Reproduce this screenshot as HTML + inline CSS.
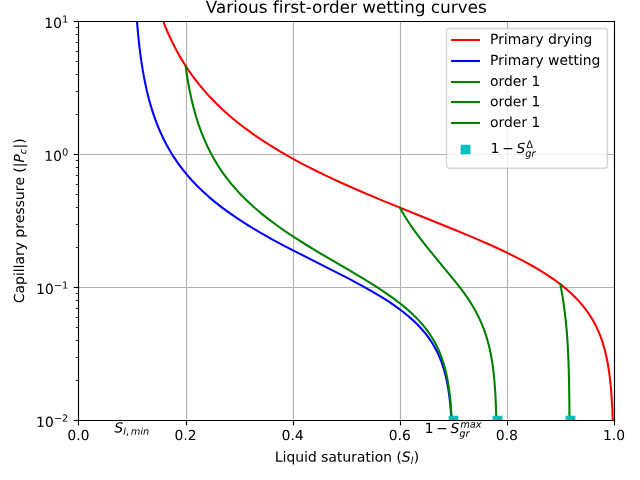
<!DOCTYPE html>
<html><head><meta charset="utf-8"><title>Various first-order wetting curves</title>
<style>html,body{margin:0;padding:0;background:#fff;overflow:hidden}svg{display:block}</style>
</head><body>
<svg width="640" height="480" viewBox="0 0 460.8 345.6" version="1.1" role="img" aria-label="Various first-order wetting curves. Capillary pressure (|Pc|) versus liquid saturation (Sl). Legend: Primary drying, Primary wetting, order 1, order 1, order 1, 1-Sgr^Delta. Annotations: Sl,min and 1-Sgr^max.">
 <title>Various first-order wetting curves. Capillary pressure (|Pc|) versus liquid saturation (Sl). Legend: Primary drying, Primary wetting, order 1, order 1, order 1, 1-Sgr^Delta. Annotations: Sl,min and 1-Sgr^max.</title>
  <defs>
  <style type="text/css">*{stroke-linejoin: round; stroke-linecap: butt}</style>
 </defs>
 <g id="figure_1">
  <g id="patch_1">
   <path d="M 0 345.6 L 460.8 345.6 L 460.8 0 L 0 0 z
" style="fill: #ffffff"/>
  </g>
  <g id="axes_1">
   <g id="patch_2">
    <path d="M 56.4768 302.544 L 442.08 302.544 L 442.08 15.264 L 56.4768 15.264 z
" style="fill: #ffffff"/>
   </g>
   <g id="matplotlib.axis_1">
    <g id="xtick_1">
     <g id="line2d_1">
      <path d="M 56.5200 302.544 L 56.5200 15.264 " clip-path="url(#p04ae2a21cd)" style="fill: none; stroke: #b0b0b0; stroke-width: 0.8; stroke-linecap: square"/>
     </g>
     <g id="line2d_2">
      <defs>
       <path id="mc9bf2ea2a0" d="M 0 0 L 0 3.5 " style="stroke: #000000; stroke-width: 0.8"/>
      </defs>
      <g>
       <path d="M 56.5200 302.7600 L 56.5200 306.2600" style="stroke: #000000; stroke-width: 0.8"/>
      </g>
     </g>
     <g id="text_1" transform="translate(0.0000 -0.2880)">
      <!-- 0.0 -->
      <g transform="translate(48.525237 317.142437) scale(0.1 -0.1)">
       <defs>
        <path id="DejaVuSans-30" d="M 2034 4250 Q 1547 4250 1301 3770 Q 1056 3291 1056 2328 Q 1056 1369 1301 889 Q 1547 409 2034 409 Q 2525 409 2770 889 Q 3016 1369 3016 2328 Q 3016 3291 2770 3770 Q 2525 4250 2034 4250 z
M 2034 4750 Q 2819 4750 3233 4129 Q 3647 3509 3647 2328 Q 3647 1150 3233 529 Q 2819 -91 2034 -91 Q 1250 -91 836 529 Q 422 1150 422 2328 Q 422 3509 836 4129 Q 1250 4750 2034 4750 z
" transform="scale(0.015625)"/>
        <path id="DejaVuSans-2e" d="M 684 794 L 1344 794 L 1344 0 L 684 0 L 684 794 z
" transform="scale(0.015625)"/>
       </defs>
       <use xlink:href="#DejaVuSans-30"/>
       <use xlink:href="#DejaVuSans-2e" transform="translate(63.623047 0)"/>
       <use xlink:href="#DejaVuSans-30" transform="translate(95.410156 0)"/>
      </g>
     </g>
    </g>
    <g id="xtick_2">
     <g id="line2d_3">
      <path d="M 134.2800 302.544 L 134.2800 15.264 " clip-path="url(#p04ae2a21cd)" style="fill: none; stroke: #b0b0b0; stroke-width: 0.8; stroke-linecap: square"/>
     </g>
     <g id="line2d_4">
      <g>
       <path d="M 134.2800 302.7600 L 134.2800 306.2600" style="stroke: #000000; stroke-width: 0.8"/>
      </g>
     </g>
     <g id="text_2" transform="translate(0.0000 -0.2880)">
      <!-- 0.2 -->
      <g transform="translate(125.645878 317.142437) scale(0.1 -0.1)">
       <defs>
        <path id="DejaVuSans-32" d="M 1228 531 L 3431 531 L 3431 0 L 469 0 L 469 531 Q 828 903 1448 1529 Q 2069 2156 2228 2338 Q 2531 2678 2651 2914 Q 2772 3150 2772 3378 Q 2772 3750 2511 3984 Q 2250 4219 1831 4219 Q 1534 4219 1204 4116 Q 875 4013 500 3803 L 500 4441 Q 881 4594 1212 4672 Q 1544 4750 1819 4750 Q 2544 4750 2975 4387 Q 3406 4025 3406 3419 Q 3406 3131 3298 2873 Q 3191 2616 2906 2266 Q 2828 2175 2409 1742 Q 1991 1309 1228 531 z
" transform="scale(0.015625)"/>
       </defs>
       <use xlink:href="#DejaVuSans-30"/>
       <use xlink:href="#DejaVuSans-2e" transform="translate(63.623047 0)"/>
       <use xlink:href="#DejaVuSans-32" transform="translate(95.410156 0)"/>
      </g>
     </g>
    </g>
    <g id="xtick_3">
     <g id="line2d_5">
      <path d="M 211.3200 302.544 L 211.3200 15.264 " clip-path="url(#p04ae2a21cd)" style="fill: none; stroke: #b0b0b0; stroke-width: 0.8; stroke-linecap: square"/>
     </g>
     <g id="line2d_6">
      <g>
       <path d="M 211.3200 302.7600 L 211.3200 306.2600" style="stroke: #000000; stroke-width: 0.8"/>
      </g>
     </g>
     <g id="text_3" transform="translate(0.0000 -0.2880)">
      <!-- 0.4 -->
      <g transform="translate(202.766518 317.142437) scale(0.1 -0.1)">
       <defs>
        <path id="DejaVuSans-34" d="M 2419 4116 L 825 1625 L 2419 1625 L 2419 4116 z
M 2253 4666 L 3047 4666 L 3047 1625 L 3713 1625 L 3713 1100 L 3047 1100 L 3047 0 L 2419 0 L 2419 1100 L 313 1100 L 313 1709 L 2253 4666 z
" transform="scale(0.015625)"/>
       </defs>
       <use xlink:href="#DejaVuSans-30"/>
       <use xlink:href="#DejaVuSans-2e" transform="translate(63.623047 0)"/>
       <use xlink:href="#DejaVuSans-34" transform="translate(95.410156 0)"/>
      </g>
     </g>
    </g>
    <g id="xtick_4">
     <g id="line2d_7">
      <path d="M 288.3600 302.544 L 288.3600 15.264 " clip-path="url(#p04ae2a21cd)" style="fill: none; stroke: #b0b0b0; stroke-width: 0.8; stroke-linecap: square"/>
     </g>
     <g id="line2d_8">
      <g>
       <path d="M 288.3600 302.7600 L 288.3600 306.2600" style="stroke: #000000; stroke-width: 0.8"/>
      </g>
     </g>
     <g id="text_4" transform="translate(0.0000 -0.2880)">
      <!-- 0.6 -->
      <g transform="translate(279.887158 317.142437) scale(0.1 -0.1)">
       <defs>
        <path id="DejaVuSans-36" d="M 2113 2584 Q 1688 2584 1439 2293 Q 1191 2003 1191 1497 Q 1191 994 1439 701 Q 1688 409 2113 409 Q 2538 409 2786 701 Q 3034 994 3034 1497 Q 3034 2003 2786 2293 Q 2538 2584 2113 2584 z
M 3366 4563 L 3366 3988 Q 3128 4100 2886 4159 Q 2644 4219 2406 4219 Q 1781 4219 1451 3797 Q 1122 3375 1075 2522 Q 1259 2794 1537 2939 Q 1816 3084 2150 3084 Q 2853 3084 3261 2657 Q 3669 2231 3669 1497 Q 3669 778 3244 343 Q 2819 -91 2113 -91 Q 1303 -91 875 529 Q 447 1150 447 2328 Q 447 3434 972 4092 Q 1497 4750 2381 4750 Q 2619 4750 2861 4703 Q 3103 4656 3366 4563 z
" transform="scale(0.015625)"/>
       </defs>
       <use xlink:href="#DejaVuSans-30"/>
       <use xlink:href="#DejaVuSans-2e" transform="translate(63.623047 0)"/>
       <use xlink:href="#DejaVuSans-36" transform="translate(95.410156 0)"/>
      </g>
     </g>
    </g>
    <g id="xtick_5">
     <g id="line2d_9">
      <path d="M 365.4000 302.544 L 365.4000 15.264 " clip-path="url(#p04ae2a21cd)" style="fill: none; stroke: #b0b0b0; stroke-width: 0.8; stroke-linecap: square"/>
     </g>
     <g id="line2d_10">
      <g>
       <path d="M 365.4000 302.7600 L 365.4000 306.2600" style="stroke: #000000; stroke-width: 0.8"/>
      </g>
     </g>
     <g id="text_5" transform="translate(0.0000 -0.2880)">
      <!-- 0.8 -->
      <g transform="translate(357.007798 317.142437) scale(0.1 -0.1)">
       <defs>
        <path id="DejaVuSans-38" d="M 2034 2216 Q 1584 2216 1326 1975 Q 1069 1734 1069 1313 Q 1069 891 1326 650 Q 1584 409 2034 409 Q 2484 409 2743 651 Q 3003 894 3003 1313 Q 3003 1734 2745 1975 Q 2488 2216 2034 2216 z
M 1403 2484 Q 997 2584 770 2862 Q 544 3141 544 3541 Q 544 4100 942 4425 Q 1341 4750 2034 4750 Q 2731 4750 3128 4425 Q 3525 4100 3525 3541 Q 3525 3141 3298 2862 Q 3072 2584 2669 2484 Q 3125 2378 3379 2068 Q 3634 1759 3634 1313 Q 3634 634 3220 271 Q 2806 -91 2034 -91 Q 1263 -91 848 271 Q 434 634 434 1313 Q 434 1759 690 2068 Q 947 2378 1403 2484 z
M 1172 3481 Q 1172 3119 1398 2916 Q 1625 2713 2034 2713 Q 2441 2713 2670 2916 Q 2900 3119 2900 3481 Q 2900 3844 2670 4047 Q 2441 4250 2034 4250 Q 1625 4250 1398 4047 Q 1172 3844 1172 3481 z
" transform="scale(0.015625)"/>
       </defs>
       <use xlink:href="#DejaVuSans-30"/>
       <use xlink:href="#DejaVuSans-2e" transform="translate(63.623047 0)"/>
       <use xlink:href="#DejaVuSans-38" transform="translate(95.410156 0)"/>
      </g>
     </g>
    </g>
    <g id="xtick_6">
     <g id="line2d_11">
      <path d="M 442.4400 302.544 L 442.4400 15.264 " clip-path="url(#p04ae2a21cd)" style="fill: none; stroke: #b0b0b0; stroke-width: 0.8; stroke-linecap: square"/>
     </g>
     <g id="line2d_12">
      <g>
       <path d="M 442.4400 302.7600 L 442.4400 306.2600" style="stroke: #000000; stroke-width: 0.8"/>
      </g>
     </g>
     <g id="text_6" transform="translate(0.0000 -0.2880)">
      <!-- 1.0 -->
      <g transform="translate(434.128438 317.142437) scale(0.1 -0.1)">
       <defs>
        <path id="DejaVuSans-31" d="M 794 531 L 1825 531 L 1825 4091 L 703 3866 L 703 4441 L 1819 4666 L 2450 4666 L 2450 531 L 3481 531 L 3481 0 L 794 0 L 794 531 z
" transform="scale(0.015625)"/>
       </defs>
       <use xlink:href="#DejaVuSans-31"/>
       <use xlink:href="#DejaVuSans-2e" transform="translate(63.623047 0)"/>
       <use xlink:href="#DejaVuSans-30" transform="translate(95.410156 0)"/>
      </g>
     </g>
    </g>
    <g id="xlabel" transform="translate(0.5760 1.5840)">
     <!-- Liquid saturation ($S_l$) -->
     <g transform="translate(197.3284 330.822125) scale(0.1 -0.1)">
      <defs>
       <path id="DejaVuSans-4c" d="M 628 4666 L 1259 4666 L 1259 531 L 3531 531 L 3531 0 L 628 0 L 628 4666 z
" transform="scale(0.015625)"/>
       <path id="DejaVuSans-69" d="M 603 3500 L 1178 3500 L 1178 0 L 603 0 L 603 3500 z
M 603 4863 L 1178 4863 L 1178 4134 L 603 4134 L 603 4863 z
" transform="scale(0.015625)"/>
       <path id="DejaVuSans-71" d="M 947 1747 Q 947 1113 1208 752 Q 1469 391 1925 391 Q 2381 391 2643 752 Q 2906 1113 2906 1747 Q 2906 2381 2643 2742 Q 2381 3103 1925 3103 Q 1469 3103 1208 2742 Q 947 2381 947 1747 z
M 2906 525 Q 2725 213 2448 61 Q 2172 -91 1784 -91 Q 1150 -91 751 415 Q 353 922 353 1747 Q 353 2572 751 3078 Q 1150 3584 1784 3584 Q 2172 3584 2448 3432 Q 2725 3281 2906 2969 L 2906 3500 L 3481 3500 L 3481 -1331 L 2906 -1331 L 2906 525 z
" transform="scale(0.015625)"/>
       <path id="DejaVuSans-75" d="M 544 1381 L 544 3500 L 1119 3500 L 1119 1403 Q 1119 906 1312 657 Q 1506 409 1894 409 Q 2359 409 2629 706 Q 2900 1003 2900 1516 L 2900 3500 L 3475 3500 L 3475 0 L 2900 0 L 2900 538 Q 2691 219 2414 64 Q 2138 -91 1772 -91 Q 1169 -91 856 284 Q 544 659 544 1381 z
M 1991 3584 L 1991 3584 z
" transform="scale(0.015625)"/>
       <path id="DejaVuSans-64" d="M 2906 2969 L 2906 4863 L 3481 4863 L 3481 0 L 2906 0 L 2906 525 Q 2725 213 2448 61 Q 2172 -91 1784 -91 Q 1150 -91 751 415 Q 353 922 353 1747 Q 353 2572 751 3078 Q 1150 3584 1784 3584 Q 2172 3584 2448 3432 Q 2725 3281 2906 2969 z
M 947 1747 Q 947 1113 1208 752 Q 1469 391 1925 391 Q 2381 391 2643 752 Q 2906 1113 2906 1747 Q 2906 2381 2643 2742 Q 2381 3103 1925 3103 Q 1469 3103 1208 2742 Q 947 2381 947 1747 z
" transform="scale(0.015625)"/>
       <path id="DejaVuSans-20" transform="scale(0.015625)"/>
       <path id="DejaVuSans-73" d="M 2834 3397 L 2834 2853 Q 2591 2978 2328 3040 Q 2066 3103 1784 3103 Q 1356 3103 1142 2972 Q 928 2841 928 2578 Q 928 2378 1081 2264 Q 1234 2150 1697 2047 L 1894 2003 Q 2506 1872 2764 1633 Q 3022 1394 3022 966 Q 3022 478 2636 193 Q 2250 -91 1575 -91 Q 1294 -91 989 -36 Q 684 19 347 128 L 347 722 Q 666 556 975 473 Q 1284 391 1588 391 Q 1994 391 2212 530 Q 2431 669 2431 922 Q 2431 1156 2273 1281 Q 2116 1406 1581 1522 L 1381 1569 Q 847 1681 609 1914 Q 372 2147 372 2553 Q 372 3047 722 3315 Q 1072 3584 1716 3584 Q 2034 3584 2315 3537 Q 2597 3491 2834 3397 z
" transform="scale(0.015625)"/>
       <path id="DejaVuSans-61" d="M 2194 1759 Q 1497 1759 1228 1600 Q 959 1441 959 1056 Q 959 750 1161 570 Q 1363 391 1709 391 Q 2188 391 2477 730 Q 2766 1069 2766 1631 L 2766 1759 L 2194 1759 z
M 3341 1997 L 3341 0 L 2766 0 L 2766 531 Q 2569 213 2275 61 Q 1981 -91 1556 -91 Q 1019 -91 701 211 Q 384 513 384 1019 Q 384 1609 779 1909 Q 1175 2209 1959 2209 L 2766 2209 L 2766 2266 Q 2766 2663 2505 2880 Q 2244 3097 1772 3097 Q 1472 3097 1187 3025 Q 903 2953 641 2809 L 641 3341 Q 956 3463 1253 3523 Q 1550 3584 1831 3584 Q 2591 3584 2966 3190 Q 3341 2797 3341 1997 z
" transform="scale(0.015625)"/>
       <path id="DejaVuSans-74" d="M 1172 4494 L 1172 3500 L 2356 3500 L 2356 3053 L 1172 3053 L 1172 1153 Q 1172 725 1289 603 Q 1406 481 1766 481 L 2356 481 L 2356 0 L 1766 0 Q 1100 0 847 248 Q 594 497 594 1153 L 594 3053 L 172 3053 L 172 3500 L 594 3500 L 594 4494 L 1172 4494 z
" transform="scale(0.015625)"/>
       <path id="DejaVuSans-72" d="M 2631 2963 Q 2534 3019 2420 3045 Q 2306 3072 2169 3072 Q 1681 3072 1420 2755 Q 1159 2438 1159 1844 L 1159 0 L 581 0 L 581 3500 L 1159 3500 L 1159 2956 Q 1341 3275 1631 3429 Q 1922 3584 2338 3584 Q 2397 3584 2469 3576 Q 2541 3569 2628 3553 L 2631 2963 z
" transform="scale(0.015625)"/>
       <path id="DejaVuSans-6f" d="M 1959 3097 Q 1497 3097 1228 2736 Q 959 2375 959 1747 Q 959 1119 1226 758 Q 1494 397 1959 397 Q 2419 397 2687 759 Q 2956 1122 2956 1747 Q 2956 2369 2687 2733 Q 2419 3097 1959 3097 z
M 1959 3584 Q 2709 3584 3137 3096 Q 3566 2609 3566 1747 Q 3566 888 3137 398 Q 2709 -91 1959 -91 Q 1206 -91 779 398 Q 353 888 353 1747 Q 353 2609 779 3096 Q 1206 3584 1959 3584 z
" transform="scale(0.015625)"/>
       <path id="DejaVuSans-6e" d="M 3513 2113 L 3513 0 L 2938 0 L 2938 2094 Q 2938 2591 2744 2837 Q 2550 3084 2163 3084 Q 1697 3084 1428 2787 Q 1159 2491 1159 1978 L 1159 0 L 581 0 L 581 3500 L 1159 3500 L 1159 2956 Q 1366 3272 1645 3428 Q 1925 3584 2291 3584 Q 2894 3584 3203 3211 Q 3513 2838 3513 2113 z
" transform="scale(0.015625)"/>
       <path id="DejaVuSans-28" d="M 1984 4856 Q 1566 4138 1362 3434 Q 1159 2731 1159 2009 Q 1159 1288 1364 580 Q 1569 -128 1984 -844 L 1484 -844 Q 1016 -109 783 600 Q 550 1309 550 2009 Q 550 2706 781 3412 Q 1013 4119 1484 4856 L 1984 4856 z
" transform="scale(0.015625)"/>
       <path id="DejaVuSans-Oblique-53" d="M 3859 4513 L 3738 3897 Q 3422 4066 3111 4152 Q 2800 4238 2509 4238 Q 1944 4238 1609 3991 Q 1275 3744 1275 3334 Q 1275 3109 1398 2989 Q 1522 2869 2034 2731 L 2413 2638 Q 3053 2472 3303 2217 Q 3553 1963 3553 1503 Q 3553 797 2998 353 Q 2444 -91 1538 -91 Q 1166 -91 791 -17 Q 416 56 38 206 L 166 856 Q 513 641 861 531 Q 1209 422 1556 422 Q 2147 422 2503 684 Q 2859 947 2859 1369 Q 2859 1650 2717 1795 Q 2575 1941 2106 2059 L 1728 2156 Q 1081 2325 845 2545 Q 609 2766 609 3163 Q 609 3859 1145 4304 Q 1681 4750 2541 4750 Q 2875 4750 3203 4690 Q 3531 4631 3859 4513 z
" transform="scale(0.015625)"/>
       <path id="DejaVuSans-Oblique-6c" d="M 1172 4863 L 1747 4863 L 800 0 L 225 0 L 1172 4863 z
" transform="scale(0.015625)"/>
       <path id="DejaVuSans-29" d="M 513 4856 L 1013 4856 Q 1481 4119 1714 3412 Q 1947 2706 1947 2009 Q 1947 1309 1714 600 Q 1481 -109 1013 -844 L 513 -844 Q 928 -128 1133 580 Q 1338 1288 1338 2009 Q 1338 2731 1133 3434 Q 928 4138 513 4856 z
" transform="scale(0.015625)"/>
      </defs>
      <use xlink:href="#DejaVuSans-4c" transform="translate(0 0.015625)"/>
      <use xlink:href="#DejaVuSans-69" transform="translate(55.712891 0.015625)"/>
      <use xlink:href="#DejaVuSans-71" transform="translate(83.496094 0.015625)"/>
      <use xlink:href="#DejaVuSans-75" transform="translate(146.972656 0.015625)"/>
      <use xlink:href="#DejaVuSans-69" transform="translate(210.351562 0.015625)"/>
      <use xlink:href="#DejaVuSans-64" transform="translate(238.134766 0.015625)"/>
      <use xlink:href="#DejaVuSans-20" transform="translate(301.611328 0.015625)"/>
      <use xlink:href="#DejaVuSans-73" transform="translate(333.398438 0.015625)"/>
      <use xlink:href="#DejaVuSans-61" transform="translate(385.498047 0.015625)"/>
      <use xlink:href="#DejaVuSans-74" transform="translate(446.777344 0.015625)"/>
      <use xlink:href="#DejaVuSans-75" transform="translate(485.986328 0.015625)"/>
      <use xlink:href="#DejaVuSans-72" transform="translate(549.365234 0.015625)"/>
      <use xlink:href="#DejaVuSans-61" transform="translate(590.478516 0.015625)"/>
      <use xlink:href="#DejaVuSans-74" transform="translate(651.757812 0.015625)"/>
      <use xlink:href="#DejaVuSans-69" transform="translate(690.966797 0.015625)"/>
      <use xlink:href="#DejaVuSans-6f" transform="translate(718.75 0.015625)"/>
      <use xlink:href="#DejaVuSans-6e" transform="translate(779.931641 0.015625)"/>
      <use xlink:href="#DejaVuSans-20" transform="translate(843.310547 0.015625)"/>
      <use xlink:href="#DejaVuSans-28" transform="translate(875.097656 0.015625)"/>
      <use xlink:href="#DejaVuSans-Oblique-53" transform="translate(914.111328 0.015625)"/>
      <use xlink:href="#DejaVuSans-Oblique-6c" transform="translate(977.587891 -16.390625) scale(0.7)"/>
      <use xlink:href="#DejaVuSans-29" transform="translate(999.770508 0.015625)"/>
     </g>
    </g>
   </g>
   <g id="matplotlib.axis_2">
    <g id="ytick_1">
     <g id="line2d_13">
      <path d="M 56.4768 302.7600 L 442.08 302.7600 " clip-path="url(#p04ae2a21cd)" style="fill: none; stroke: #b0b0b0; stroke-width: 0.8; stroke-linecap: square"/>
     </g>
     <g id="line2d_14">
      <defs>
       <path id="ma0c48b277f" d="M 0 0 L -3.5 0 " style="stroke: #000000; stroke-width: 0.8"/>
      </defs>
      <g>
       <path d="M 56.5200 302.7600 L 53.0200 302.7600" style="stroke: #000000; stroke-width: 0.8"/>
      </g>
     </g>
     <g id="text_7" transform="translate(0.0000 1.0800)">
      <!-- $\mathdefault{10^{-2}}$ -->
      <g transform="translate(25.9768 306.343219) scale(0.1 -0.1)">
       <defs>
        <path id="DejaVuSans-2212" d="M 678 2272 L 4684 2272 L 4684 1741 L 678 1741 L 678 2272 z
" transform="scale(0.015625)"/>
       </defs>
       <use xlink:href="#DejaVuSans-31" transform="translate(0 0.765625)"/>
       <use xlink:href="#DejaVuSans-30" transform="translate(63.623047 0.765625)"/>
       <use xlink:href="#DejaVuSans-2212" transform="translate(128.203125 39.046875) scale(0.7)"/>
       <use xlink:href="#DejaVuSans-32" transform="translate(186.855469 39.046875) scale(0.7)"/>
      </g>
     </g>
    </g>
    <g id="ytick_2">
     <g id="line2d_15">
      <path d="M 56.4768 207.0000 L 442.08 207.0000 " clip-path="url(#p04ae2a21cd)" style="fill: none; stroke: #b0b0b0; stroke-width: 0.8; stroke-linecap: square"/>
     </g>
     <g id="line2d_16">
      <g>
       <path d="M 56.5200 207.0000 L 53.0200 207.0000" style="stroke: #000000; stroke-width: 0.8"/>
      </g>
     </g>
     <g id="text_8" transform="translate(0.0000 1.0800)">
      <!-- $\mathdefault{10^{-1}}$ -->
      <g transform="translate(25.9768 210.583219) scale(0.1 -0.1)">
       <use xlink:href="#DejaVuSans-31" transform="translate(0 0.684375)"/>
       <use xlink:href="#DejaVuSans-30" transform="translate(63.623047 0.684375)"/>
       <use xlink:href="#DejaVuSans-2212" transform="translate(128.203125 38.965625) scale(0.7)"/>
       <use xlink:href="#DejaVuSans-31" transform="translate(186.855469 38.965625) scale(0.7)"/>
      </g>
     </g>
    </g>
    <g id="ytick_3">
     <g id="line2d_17">
      <path d="M 56.4768 111.2400 L 442.08 111.2400 " clip-path="url(#p04ae2a21cd)" style="fill: none; stroke: #b0b0b0; stroke-width: 0.8; stroke-linecap: square"/>
     </g>
     <g id="line2d_18">
      <g>
       <path d="M 56.5200 111.2400 L 53.0200 111.2400" style="stroke: #000000; stroke-width: 0.8"/>
      </g>
     </g>
     <g id="text_9" transform="translate(0.0000 1.0800)">
      <!-- $\mathdefault{10^{0}}$ -->
      <g transform="translate(31.8768 114.823219) scale(0.1 -0.1)">
       <use xlink:href="#DejaVuSans-31" transform="translate(0 0.765625)"/>
       <use xlink:href="#DejaVuSans-30" transform="translate(63.623047 0.765625)"/>
       <use xlink:href="#DejaVuSans-30" transform="translate(128.203125 39.046875) scale(0.7)"/>
      </g>
     </g>
    </g>
    <g id="ytick_4">
     <g id="line2d_19">
      <path d="M 56.4768 15.4800 L 442.08 15.4800 " clip-path="url(#p04ae2a21cd)" style="fill: none; stroke: #b0b0b0; stroke-width: 0.8; stroke-linecap: square"/>
     </g>
     <g id="line2d_20">
      <g>
       <path d="M 56.5200 15.4800 L 53.0200 15.4800" style="stroke: #000000; stroke-width: 0.8"/>
      </g>
     </g>
     <g id="text_10" transform="translate(0.0000 1.0800)">
      <!-- $\mathdefault{10^{1}}$ -->
      <g transform="translate(31.8768 19.063219) scale(0.1 -0.1)">
       <use xlink:href="#DejaVuSans-31" transform="translate(0 0.684375)"/>
       <use xlink:href="#DejaVuSans-30" transform="translate(63.623047 0.684375)"/>
       <use xlink:href="#DejaVuSans-31" transform="translate(128.203125 38.965625) scale(0.7)"/>
      </g>
     </g>
    </g>
    <g id="ytick_5">
     <g id="line2d_21">
      <defs>
       <path id="ma6b94a188a" d="M 0 0 L -2 0 " style="stroke: #000000; stroke-width: 0.6"/>
      </defs>
      <g>
       <path d="M 56.5200 273.9600 L 54.5200 273.9600" style="stroke: #000000; stroke-width: 0.6"/>
      </g>
     </g>
    </g>
    <g id="ytick_6">
     <g id="line2d_22">
      <g>
       <path d="M 56.5200 257.4000 L 54.5200 257.4000" style="stroke: #000000; stroke-width: 0.6"/>
      </g>
     </g>
    </g>
    <g id="ytick_7">
     <g id="line2d_23">
      <g>
       <path d="M 56.5200 245.1600 L 54.5200 245.1600" style="stroke: #000000; stroke-width: 0.6"/>
      </g>
     </g>
    </g>
    <g id="ytick_8">
     <g id="line2d_24">
      <g>
       <path d="M 56.5200 235.8000 L 54.5200 235.8000" style="stroke: #000000; stroke-width: 0.6"/>
      </g>
     </g>
    </g>
    <g id="ytick_9">
     <g id="line2d_25">
      <g>
       <path d="M 56.5200 228.6000 L 54.5200 228.6000" style="stroke: #000000; stroke-width: 0.6"/>
      </g>
     </g>
    </g>
    <g id="ytick_10">
     <g id="line2d_26">
      <g>
       <path d="M 56.5200 222.1200 L 54.5200 222.1200" style="stroke: #000000; stroke-width: 0.6"/>
      </g>
     </g>
    </g>
    <g id="ytick_11">
     <g id="line2d_27">
      <g>
       <path d="M 56.5200 216.3600 L 54.5200 216.3600" style="stroke: #000000; stroke-width: 0.6"/>
      </g>
     </g>
    </g>
    <g id="ytick_12">
     <g id="line2d_28">
      <g>
       <path d="M 56.5200 211.3200 L 54.5200 211.3200" style="stroke: #000000; stroke-width: 0.6"/>
      </g>
     </g>
    </g>
    <g id="ytick_13">
     <g id="line2d_29">
      <g>
       <path d="M 56.5200 178.2000 L 54.5200 178.2000" style="stroke: #000000; stroke-width: 0.6"/>
      </g>
     </g>
    </g>
    <g id="ytick_14">
     <g id="line2d_30">
      <g>
       <path d="M 56.5200 161.6400 L 54.5200 161.6400" style="stroke: #000000; stroke-width: 0.6"/>
      </g>
     </g>
    </g>
    <g id="ytick_15">
     <g id="line2d_31">
      <g>
       <path d="M 56.5200 149.4000 L 54.5200 149.4000" style="stroke: #000000; stroke-width: 0.6"/>
      </g>
     </g>
    </g>
    <g id="ytick_16">
     <g id="line2d_32">
      <g>
       <path d="M 56.5200 140.0400 L 54.5200 140.0400" style="stroke: #000000; stroke-width: 0.6"/>
      </g>
     </g>
    </g>
    <g id="ytick_17">
     <g id="line2d_33">
      <g>
       <path d="M 56.5200 132.8400 L 54.5200 132.8400" style="stroke: #000000; stroke-width: 0.6"/>
      </g>
     </g>
    </g>
    <g id="ytick_18">
     <g id="line2d_34">
      <g>
       <path d="M 56.5200 126.3600 L 54.5200 126.3600" style="stroke: #000000; stroke-width: 0.6"/>
      </g>
     </g>
    </g>
    <g id="ytick_19">
     <g id="line2d_35">
      <g>
       <path d="M 56.5200 120.6000 L 54.5200 120.6000" style="stroke: #000000; stroke-width: 0.6"/>
      </g>
     </g>
    </g>
    <g id="ytick_20">
     <g id="line2d_36">
      <g>
       <path d="M 56.5200 115.5600 L 54.5200 115.5600" style="stroke: #000000; stroke-width: 0.6"/>
      </g>
     </g>
    </g>
    <g id="ytick_21">
     <g id="line2d_37">
      <g>
       <path d="M 56.5200 82.4400 L 54.5200 82.4400" style="stroke: #000000; stroke-width: 0.6"/>
      </g>
     </g>
    </g>
    <g id="ytick_22">
     <g id="line2d_38">
      <g>
       <path d="M 56.5200 65.8800 L 54.5200 65.8800" style="stroke: #000000; stroke-width: 0.6"/>
      </g>
     </g>
    </g>
    <g id="ytick_23">
     <g id="line2d_39">
      <g>
       <path d="M 56.5200 53.6400 L 54.5200 53.6400" style="stroke: #000000; stroke-width: 0.6"/>
      </g>
     </g>
    </g>
    <g id="ytick_24">
     <g id="line2d_40">
      <g>
       <path d="M 56.5200 44.2800 L 54.5200 44.2800" style="stroke: #000000; stroke-width: 0.6"/>
      </g>
     </g>
    </g>
    <g id="ytick_25">
     <g id="line2d_41">
      <g>
       <path d="M 56.5200 37.0800 L 54.5200 37.0800" style="stroke: #000000; stroke-width: 0.6"/>
      </g>
     </g>
    </g>
    <g id="ytick_26">
     <g id="line2d_42">
      <g>
       <path d="M 56.5200 30.6000 L 54.5200 30.6000" style="stroke: #000000; stroke-width: 0.6"/>
      </g>
     </g>
    </g>
    <g id="ytick_27">
     <g id="line2d_43">
      <g>
       <path d="M 56.5200 24.8400 L 54.5200 24.8400" style="stroke: #000000; stroke-width: 0.6"/>
      </g>
     </g>
    </g>
    <g id="ytick_28">
     <g id="line2d_44">
      <g>
       <path d="M 56.5200 19.8000 L 54.5200 19.8000" style="stroke: #000000; stroke-width: 0.6"/>
      </g>
     </g>
    </g>
    <g id="ylabel" transform="translate(-2.2320 0.0000)">
     <!-- Capillary pressure ($|P_c|$) -->
     <g transform="translate(19.5768 218.254) rotate(-90) scale(0.1 -0.1)">
      <defs>
       <path id="DejaVuSans-43" d="M 4122 4306 L 4122 3641 Q 3803 3938 3442 4084 Q 3081 4231 2675 4231 Q 1875 4231 1450 3742 Q 1025 3253 1025 2328 Q 1025 1406 1450 917 Q 1875 428 2675 428 Q 3081 428 3442 575 Q 3803 722 4122 1019 L 4122 359 Q 3791 134 3420 21 Q 3050 -91 2638 -91 Q 1578 -91 968 557 Q 359 1206 359 2328 Q 359 3453 968 4101 Q 1578 4750 2638 4750 Q 3056 4750 3426 4639 Q 3797 4528 4122 4306 z
" transform="scale(0.015625)"/>
       <path id="DejaVuSans-70" d="M 1159 525 L 1159 -1331 L 581 -1331 L 581 3500 L 1159 3500 L 1159 2969 Q 1341 3281 1617 3432 Q 1894 3584 2278 3584 Q 2916 3584 3314 3078 Q 3713 2572 3713 1747 Q 3713 922 3314 415 Q 2916 -91 2278 -91 Q 1894 -91 1617 61 Q 1341 213 1159 525 z
M 3116 1747 Q 3116 2381 2855 2742 Q 2594 3103 2138 3103 Q 1681 3103 1420 2742 Q 1159 2381 1159 1747 Q 1159 1113 1420 752 Q 1681 391 2138 391 Q 2594 391 2855 752 Q 3116 1113 3116 1747 z
" transform="scale(0.015625)"/>
       <path id="DejaVuSans-6c" d="M 603 4863 L 1178 4863 L 1178 0 L 603 0 L 603 4863 z
" transform="scale(0.015625)"/>
       <path id="DejaVuSans-79" d="M 2059 -325 Q 1816 -950 1584 -1140 Q 1353 -1331 966 -1331 L 506 -1331 L 506 -850 L 844 -850 Q 1081 -850 1212 -737 Q 1344 -625 1503 -206 L 1606 56 L 191 3500 L 800 3500 L 1894 763 L 2988 3500 L 3597 3500 L 2059 -325 z
" transform="scale(0.015625)"/>
       <path id="DejaVuSans-65" d="M 3597 1894 L 3597 1613 L 953 1613 Q 991 1019 1311 708 Q 1631 397 2203 397 Q 2534 397 2845 478 Q 3156 559 3463 722 L 3463 178 Q 3153 47 2828 -22 Q 2503 -91 2169 -91 Q 1331 -91 842 396 Q 353 884 353 1716 Q 353 2575 817 3079 Q 1281 3584 2069 3584 Q 2775 3584 3186 3129 Q 3597 2675 3597 1894 z
M 3022 2063 Q 3016 2534 2758 2815 Q 2500 3097 2075 3097 Q 1594 3097 1305 2825 Q 1016 2553 972 2059 L 3022 2063 z
" transform="scale(0.015625)"/>
       <path id="DejaVuSans-7c" d="M 1344 4891 L 1344 -1509 L 813 -1509 L 813 4891 L 1344 4891 z
" transform="scale(0.015625)"/>
       <path id="DejaVuSans-Oblique-50" d="M 1081 4666 L 2541 4666 Q 3178 4666 3512 4369 Q 3847 4072 3847 3500 Q 3847 2731 3353 2303 Q 2859 1875 1966 1875 L 1172 1875 L 806 0 L 172 0 L 1081 4666 z
M 1613 4147 L 1275 2394 L 2069 2394 Q 2606 2394 2893 2669 Q 3181 2944 3181 3456 Q 3181 3784 2986 3965 Q 2791 4147 2438 4147 L 1613 4147 z
" transform="scale(0.015625)"/>
       <path id="DejaVuSans-Oblique-63" d="M 3431 3366 L 3316 2797 Q 3109 2947 2876 3022 Q 2644 3097 2394 3097 Q 2119 3097 1870 3000 Q 1622 2903 1453 2725 Q 1184 2453 1037 2087 Q 891 1722 891 1331 Q 891 859 1127 628 Q 1363 397 1844 397 Q 2081 397 2348 469 Q 2616 541 2906 684 L 2797 116 Q 2547 13 2283 -39 Q 2019 -91 1741 -91 Q 1044 -91 669 257 Q 294 606 294 1253 Q 294 1797 489 2255 Q 684 2713 1069 3078 Q 1331 3328 1684 3456 Q 2038 3584 2456 3584 Q 2700 3584 2940 3529 Q 3181 3475 3431 3366 z
" transform="scale(0.015625)"/>
      </defs>
      <use xlink:href="#DejaVuSans-43" transform="translate(0 0.578125)"/>
      <use xlink:href="#DejaVuSans-61" transform="translate(69.824219 0.578125)"/>
      <use xlink:href="#DejaVuSans-70" transform="translate(131.103516 0.578125)"/>
      <use xlink:href="#DejaVuSans-69" transform="translate(194.580078 0.578125)"/>
      <use xlink:href="#DejaVuSans-6c" transform="translate(222.363281 0.578125)"/>
      <use xlink:href="#DejaVuSans-6c" transform="translate(250.146484 0.578125)"/>
      <use xlink:href="#DejaVuSans-61" transform="translate(277.929688 0.578125)"/>
      <use xlink:href="#DejaVuSans-72" transform="translate(339.208984 0.578125)"/>
      <use xlink:href="#DejaVuSans-79" transform="translate(380.322266 0.578125)"/>
      <use xlink:href="#DejaVuSans-20" transform="translate(439.501953 0.578125)"/>
      <use xlink:href="#DejaVuSans-70" transform="translate(471.289062 0.578125)"/>
      <use xlink:href="#DejaVuSans-72" transform="translate(534.765625 0.578125)"/>
      <use xlink:href="#DejaVuSans-65" transform="translate(575.878906 0.578125)"/>
      <use xlink:href="#DejaVuSans-73" transform="translate(637.402344 0.578125)"/>
      <use xlink:href="#DejaVuSans-73" transform="translate(689.501953 0.578125)"/>
      <use xlink:href="#DejaVuSans-75" transform="translate(741.601562 0.578125)"/>
      <use xlink:href="#DejaVuSans-72" transform="translate(804.980469 0.578125)"/>
      <use xlink:href="#DejaVuSans-65" transform="translate(846.09375 0.578125)"/>
      <use xlink:href="#DejaVuSans-20" transform="translate(907.617188 0.578125)"/>
      <use xlink:href="#DejaVuSans-28" transform="translate(939.404297 0.578125)"/>
      <use xlink:href="#DejaVuSans-7c" transform="translate(978.417969 0.578125)"/>
      <use xlink:href="#DejaVuSans-Oblique-50" transform="translate(1012.109375 0.578125)"/>
      <use xlink:href="#DejaVuSans-Oblique-63" transform="translate(1072.412109 -15.828125) scale(0.7)"/>
      <use xlink:href="#DejaVuSans-7c" transform="translate(1113.632812 0.578125)"/>
      <use xlink:href="#DejaVuSans-29" transform="translate(1147.324219 0.578125)"/>
     </g>
    </g>
   </g>
   <g id="line2d_45">
    <path d="M 441.937189 346.6 L 441.679483 321.351149 L 441.301924 305.066521 L 440.805194 292.932876 L 440.199546 283.353683 L 439.466134 275.211369 L 438.611132 268.186628 L 437.655592 262.119805 L 436.585561 256.691596 L 435.39336 251.742346 L 434.05424 247.112403 L 432.578839 242.801766 L 430.985312 238.810435 L 429.220823 234.978758 L 427.286663 231.306734 L 425.188142 227.794363 L 422.934807 224.441646 L 420.414066 221.088928 L 417.743787 217.895864 L 414.790614 214.7028 L 411.535702 211.509735 L 407.961501 208.316671 L 404.052397 205.123607 L 399.795397 201.930542 L 394.940603 198.577825 L 389.685245 195.225107 L 383.749313 191.712736 L 377.37971 188.200365 L 369.954128 184.368688 L 361.722464 180.377358 L 352.317906 176.066721 L 340.958578 171.117471 L 326.799225 165.210302 L 305.471296 156.589028 L 275.515336 144.455384 L 260.352382 138.069255 L 247.643503 132.481392 L 236.565328 127.372489 L 226.693699 122.582893 L 217.646966 117.95295 L 209.384072 113.48266 L 201.585411 109.012369 L 194.499515 104.701733 L 187.830282 100.391096 L 181.564897 96.080459 L 175.688229 91.769822 L 170.183571 87.459185 L 165.033248 83.148548 L 160.219094 78.837911 L 155.562169 74.367621 L 151.22693 69.897331 L 147.193644 65.427041 L 143.314272 60.797098 L 139.717977 56.167154 L 136.27494 51.377558 L 132.992055 46.428308 L 129.874303 41.319405 L 126.924857 36.050849 L 124.145212 30.62264 L 121.535317 25.034777 L 119.093724 19.287261 L 116.759305 13.220439 L 114.545681 6.83431 L 112.463249 0.128875 L 112.135173 -1 L 112.135173 -1 " clip-path="url(#p04ae2a21cd)" style="fill: none; stroke: #ff0000; stroke-width: 1.5; stroke-linecap: square"/>
   </g>
   <g id="line2d_46">
    <path d="M 326.224518 346.6 L 325.950334 325.981092 L 325.558717 312.250916 L 325.050786 301.873456 L 324.419564 293.411836 L 323.680296 286.387094 L 322.828336 280.320272 L 321.848933 274.892063 L 320.732489 269.942813 L 319.501324 265.472523 L 318.133176 261.321539 L 316.579498 257.330209 L 314.913675 253.658185 L 313.080732 250.145814 L 311.087807 246.793096 L 308.83326 243.440379 L 306.421401 240.247314 L 303.731589 237.05425 L 300.746012 233.861186 L 297.449318 230.668121 L 293.829552 227.475057 L 289.879122 224.281993 L 285.372839 220.929275 L 280.263316 217.416904 L 274.512335 213.74488 L 268.096232 209.913203 L 260.429036 205.602566 L 251.146921 200.653316 L 238.65465 194.267188 L 204.98045 177.184293 L 194.911092 171.756084 L 186.474009 166.966487 L 179.029873 162.496197 L 172.271908 158.185561 L 166.165738 154.034577 L 160.455267 149.883593 L 155.332691 145.892263 L 150.561664 141.900932 L 146.129402 137.909602 L 142.020772 133.918271 L 138.21912 129.926941 L 134.572231 125.775957 L 131.218398 121.624974 L 128.024384 117.314337 L 125.103106 113.0037 L 122.33929 108.53341 L 119.738507 103.903466 L 117.303916 99.11387 L 115.036461 94.16462 L 112.873082 88.896064 L 110.88652 83.467855 L 109.022123 77.720339 L 107.290331 71.653517 L 105.697667 65.267388 L 104.215012 58.402299 L 102.855976 51.058251 L 101.605673 43.075591 L 100.45976 34.294664 L 99.436267 24.71547 L 98.519823 14.018705 L 97.709065 1.88506 L 97.545895 -1 L 97.545895 -1 " clip-path="url(#p04ae2a21cd)" style="fill: none; stroke: #0000ff; stroke-width: 1.5; stroke-linecap: square"/>
   </g>
   <g id="line2d_47">
    <path d="M 133.59744 47.372007 L 134.850341 55.798588 L 136.219315 63.522954 L 137.719409 70.720659 L 139.335357 77.391702 L 141.097349 83.711638 L 142.937992 89.504913 L 144.955967 95.122634 L 147.081669 100.389247 L 149.376262 105.480306 L 151.839294 110.395812 L 154.46786 115.135764 L 157.256356 119.700162 L 160.196279 124.089006 L 163.410168 128.477851 L 166.772168 132.691141 L 170.423298 136.904432 L 174.380698 141.117722 L 178.475161 145.155459 L 182.877192 149.193196 L 187.808212 153.406486 L 193.089519 157.619777 L 198.962732 162.008621 L 205.462982 166.573019 L 212.611002 171.312971 L 220.974594 176.579584 L 231.174426 182.723966 L 248.897087 193.081639 L 262.210557 200.981559 L 270.665014 206.248172 L 277.57497 210.81257 L 283.29331 214.850307 L 288.374601 218.71249 L 292.847262 222.399119 L 296.753742 225.910195 L 300.144612 229.245716 L 303.228544 232.581238 L 306.015554 235.91676 L 308.519531 239.252281 L 310.757225 242.587803 L 312.845532 246.098879 L 314.682433 249.609954 L 316.366136 253.296583 L 317.889249 257.158766 L 319.303567 261.372057 L 320.539288 265.760901 L 321.642503 270.500853 L 322.633725 275.767466 L 323.492664 281.560741 L 324.228883 288.05623 L 324.856303 295.605043 L 325.371536 304.558285 L 325.778065 315.618173 L 326.079534 330.189136 L 326.247768 346.6 L 326.247768 346.6 " clip-path="url(#p04ae2a21cd)" style="fill: none; stroke: #008000; stroke-width: 1.5; stroke-linecap: square"/>
   </g>
   <g id="line2d_48">
    <path d="M 287.83872 149.494379 L 290.799876 154.597528 L 294.094368 159.825144 L 297.737515 165.177227 L 301.826962 170.778244 L 306.563517 176.877129 L 312.563106 184.220685 L 329.315304 204.508813 L 333.444295 209.985363 L 336.834116 214.839577 L 339.779086 219.444858 L 342.303674 223.801205 L 344.506613 228.033084 L 346.465882 232.264964 L 348.237686 236.62131 L 349.816709 241.102124 L 351.204063 245.707404 L 352.435301 250.561619 L 353.529915 255.789235 L 354.495432 261.514719 L 355.331948 267.862538 L 356.036915 274.95716 L 356.62448 283.171984 L 357.098564 293.004881 L 357.465252 305.451585 L 357.723677 322.254636 L 357.874276 346.6 L 357.874276 346.6 " clip-path="url(#p04ae2a21cd)" style="fill: none; stroke: #008000; stroke-width: 1.5; stroke-linecap: square"/>
   </g>
   <g id="line2d_49">
    <path d="M 403.51968 204.70911 L 405.183943 214.490542 L 406.426097 223.109824 L 407.402382 231.438569 L 408.188608 240.057851 L 408.819771 249.451901 L 409.318311 260.298638 L 409.691307 273.469676 L 409.950826 290.998778 L 410.104426 318.018775 L 410.150762 346.6 L 410.150762 346.6 " clip-path="url(#p04ae2a21cd)" style="fill: none; stroke: #008000; stroke-width: 1.5; stroke-linecap: square"/>
   </g>
   <g id="line2d_50">
    <defs>
     <path id="mfbf0ec92c2" d="M -3 3 L 3 3 L 3 -3 L -3 -3 z
" style="stroke: #00bfbf; stroke-linejoin: miter"/>
    </defs>
    <g clip-path="url(#p04ae2a21cd)">
     <use xlink:href="#mfbf0ec92c2" x="326.5200" y="302.7600" style="fill: #00bfbf; stroke: #00bfbf; stroke-linejoin: miter"/>
     <use xlink:href="#mfbf0ec92c2" x="358.2000" y="302.7600" style="fill: #00bfbf; stroke: #00bfbf; stroke-linejoin: miter"/>
     <use xlink:href="#mfbf0ec92c2" x="410.7600" y="302.7600" style="fill: #00bfbf; stroke: #00bfbf; stroke-linejoin: miter"/>
    </g>
   </g>
   <g id="patch_3">
    <path d="M 56.5200 302.544 L 56.5200 15.264 " style="fill: none; stroke: #000000; stroke-width: 0.8; stroke-linejoin: miter; stroke-linecap: square"/>
   </g>
   <g id="patch_4">
    <path d="M 442.4400 302.544 L 442.4400 15.264 " style="fill: none; stroke: #000000; stroke-width: 0.8; stroke-linejoin: miter; stroke-linecap: square"/>
   </g>
   <g id="patch_5">
    <path d="M 56.4768 302.7600 L 442.08 302.7600 " style="fill: none; stroke: #000000; stroke-width: 0.8; stroke-linejoin: miter; stroke-linecap: square"/>
   </g>
   <g id="patch_6">
    <path d="M 56.4768 15.4800 L 442.08 15.4800 " style="fill: none; stroke: #000000; stroke-width: 0.8; stroke-linejoin: miter; stroke-linecap: square"/>
   </g>
   <g id="slmin" transform="translate(0.0000 1.4400)">
    <!-- $S_{l,min}$ -->
    <g transform="translate(82.33712 310.044) scale(0.1 -0.1)">
     <defs>
      <path id="DejaVuSans-2c" d="M 750 794 L 1409 794 L 1409 256 L 897 -744 L 494 -744 L 750 256 L 750 794 z
" transform="scale(0.015625)"/>
      <path id="DejaVuSans-Oblique-6d" d="M 5747 2113 L 5338 0 L 4763 0 L 5166 2094 Q 5191 2228 5203 2325 Q 5216 2422 5216 2491 Q 5216 2772 5059 2928 Q 4903 3084 4622 3084 Q 4203 3084 3875 2770 Q 3547 2456 3450 1953 L 3066 0 L 2491 0 L 2900 2094 Q 2925 2209 2937 2307 Q 2950 2406 2950 2484 Q 2950 2769 2794 2926 Q 2638 3084 2363 3084 Q 1938 3084 1609 2770 Q 1281 2456 1184 1953 L 800 0 L 225 0 L 909 3500 L 1484 3500 L 1375 2956 Q 1609 3263 1923 3423 Q 2238 3584 2597 3584 Q 2978 3584 3223 3384 Q 3469 3184 3519 2828 Q 3781 3197 4126 3390 Q 4472 3584 4856 3584 Q 5306 3584 5551 3325 Q 5797 3066 5797 2591 Q 5797 2488 5784 2364 Q 5772 2241 5747 2113 z
" transform="scale(0.015625)"/>
      <path id="DejaVuSans-Oblique-69" d="M 1172 4863 L 1747 4863 L 1606 4134 L 1031 4134 L 1172 4863 z
M 909 3500 L 1484 3500 L 800 0 L 225 0 L 909 3500 z
" transform="scale(0.015625)"/>
      <path id="DejaVuSans-Oblique-6e" d="M 3566 2113 L 3156 0 L 2578 0 L 2988 2091 Q 3016 2238 3031 2350 Q 3047 2463 3047 2528 Q 3047 2791 2881 2937 Q 2716 3084 2419 3084 Q 1956 3084 1622 2776 Q 1288 2469 1184 1941 L 800 0 L 225 0 L 903 3500 L 1478 3500 L 1363 2950 Q 1603 3253 1940 3418 Q 2278 3584 2650 3584 Q 3113 3584 3367 3334 Q 3622 3084 3622 2631 Q 3622 2519 3608 2391 Q 3594 2263 3566 2113 z
" transform="scale(0.015625)"/>
     </defs>
     <use xlink:href="#DejaVuSans-Oblique-53" transform="translate(0 0.78125)"/>
     <use xlink:href="#DejaVuSans-Oblique-6c" transform="translate(63.476562 -15.625) scale(0.7)"/>
     <use xlink:href="#DejaVuSans-2c" transform="translate(82.924805 -15.625) scale(0.7)"/>
     <use xlink:href="#DejaVuSans-Oblique-6d" transform="translate(118.813477 -15.625) scale(0.7)"/>
     <use xlink:href="#DejaVuSans-Oblique-69" transform="translate(187.001953 -15.625) scale(0.7)"/>
     <use xlink:href="#DejaVuSans-Oblique-6e" transform="translate(206.450195 -15.625) scale(0.7)"/>
    </g>
   </g>
   <g id="sgrmax" transform="translate(0.0000 1.4400)">
    <!-- $1-S_{gr}^{max}$ -->
    <g transform="translate(305.74904 310.344) scale(0.1 -0.1)">
     <defs>
      <path id="DejaVuSans-Oblique-61" d="M 3438 1997 L 3047 0 L 2472 0 L 2578 531 Q 2325 219 2001 64 Q 1678 -91 1281 -91 Q 834 -91 548 182 Q 263 456 263 884 Q 263 1497 752 1853 Q 1241 2209 2100 2209 L 2900 2209 L 2931 2363 Q 2938 2388 2941 2417 Q 2944 2447 2944 2509 Q 2944 2788 2717 2942 Q 2491 3097 2081 3097 Q 1800 3097 1504 3025 Q 1209 2953 897 2809 L 997 3341 Q 1322 3463 1633 3523 Q 1944 3584 2234 3584 Q 2853 3584 3176 3315 Q 3500 3047 3500 2534 Q 3500 2431 3484 2292 Q 3469 2153 3438 1997 z
M 2816 1759 L 2241 1759 Q 1534 1759 1195 1570 Q 856 1381 856 984 Q 856 709 1029 553 Q 1203 397 1509 397 Q 1978 397 2328 733 Q 2678 1069 2791 1631 L 2816 1759 z
" transform="scale(0.015625)"/>
      <path id="DejaVuSans-Oblique-78" d="M 3841 3500 L 2234 1784 L 3219 0 L 2559 0 L 1819 1388 L 531 0 L -166 0 L 1556 1844 L 641 3500 L 1300 3500 L 1972 2234 L 3144 3500 L 3841 3500 z
" transform="scale(0.015625)"/>
      <path id="DejaVuSans-Oblique-67" d="M 3816 3500 L 3219 434 Q 3047 -456 2561 -893 Q 2075 -1331 1253 -1331 Q 950 -1331 690 -1286 Q 431 -1241 206 -1147 L 313 -588 Q 525 -725 762 -790 Q 1000 -856 1269 -856 Q 1816 -856 2167 -557 Q 2519 -259 2631 300 L 2681 563 Q 2441 288 2122 144 Q 1803 0 1434 0 Q 903 0 598 351 Q 294 703 294 1319 Q 294 1803 478 2267 Q 663 2731 997 3091 Q 1219 3328 1514 3456 Q 1809 3584 2131 3584 Q 2484 3584 2746 3420 Q 3009 3256 3138 2956 L 3238 3500 L 3816 3500 z
M 2950 2216 Q 2950 2641 2750 2872 Q 2550 3103 2181 3103 Q 1953 3103 1747 3012 Q 1541 2922 1394 2759 Q 1156 2491 1023 2127 Q 891 1763 891 1375 Q 891 944 1092 712 Q 1294 481 1672 481 Q 2219 481 2584 976 Q 2950 1472 2950 2216 z
" transform="scale(0.015625)"/>
      <path id="DejaVuSans-Oblique-72" d="M 2853 2969 Q 2766 3016 2653 3041 Q 2541 3066 2413 3066 Q 1953 3066 1609 2717 Q 1266 2369 1153 1784 L 800 0 L 225 0 L 909 3500 L 1484 3500 L 1375 2956 Q 1603 3259 1920 3421 Q 2238 3584 2597 3584 Q 2691 3584 2781 3573 Q 2872 3563 2963 3538 L 2853 2969 z
" transform="scale(0.015625)"/>
     </defs>
     <use xlink:href="#DejaVuSans-31" transform="translate(0 0.51875)"/>
     <use xlink:href="#DejaVuSans-2212" transform="translate(83.105469 0.51875)"/>
     <use xlink:href="#DejaVuSans-Oblique-53" transform="translate(186.376953 0.51875)"/>
     <use xlink:href="#DejaVuSans-Oblique-6d" transform="translate(257.054036 38.8) scale(0.7)"/>
     <use xlink:href="#DejaVuSans-Oblique-61" transform="translate(325.242513 38.8) scale(0.7)"/>
     <use xlink:href="#DejaVuSans-Oblique-78" transform="translate(368.138021 38.8) scale(0.7)"/>
     <use xlink:href="#DejaVuSans-Oblique-67" transform="translate(249.853516 -26.825) scale(0.7)"/>
     <use xlink:href="#DejaVuSans-Oblique-72" transform="translate(294.287109 -26.825) scale(0.7)"/>
    </g>
   </g>
   <g id="title" transform="translate(249.2784 0) scale(1.00870 1) translate(-249.2784 0)">
    <!-- Various first-order wetting curves -->
    <g transform="translate(148.989338 9.264) scale(0.12 -0.12)">
     <defs>
      <path id="DejaVuSans-56" d="M 1831 0 L 50 4666 L 709 4666 L 2188 738 L 3669 4666 L 4325 4666 L 2547 0 L 1831 0 z
" transform="scale(0.015625)"/>
      <path id="DejaVuSans-66" d="M 2375 4863 L 2375 4384 L 1825 4384 Q 1516 4384 1395 4259 Q 1275 4134 1275 3809 L 1275 3500 L 2222 3500 L 2222 3053 L 1275 3053 L 1275 0 L 697 0 L 697 3053 L 147 3053 L 147 3500 L 697 3500 L 697 3744 Q 697 4328 969 4595 Q 1241 4863 1831 4863 L 2375 4863 z
" transform="scale(0.015625)"/>
      <path id="DejaVuSans-2d" d="M 313 2009 L 1997 2009 L 1997 1497 L 313 1497 L 313 2009 z
" transform="scale(0.015625)"/>
      <path id="DejaVuSans-77" d="M 269 3500 L 844 3500 L 1563 769 L 2278 3500 L 2956 3500 L 3675 769 L 4391 3500 L 4966 3500 L 4050 0 L 3372 0 L 2619 2869 L 1863 0 L 1184 0 L 269 3500 z
" transform="scale(0.015625)"/>
      <path id="DejaVuSans-67" d="M 2906 1791 Q 2906 2416 2648 2759 Q 2391 3103 1925 3103 Q 1463 3103 1205 2759 Q 947 2416 947 1791 Q 947 1169 1205 825 Q 1463 481 1925 481 Q 2391 481 2648 825 Q 2906 1169 2906 1791 z
M 3481 434 Q 3481 -459 3084 -895 Q 2688 -1331 1869 -1331 Q 1566 -1331 1297 -1286 Q 1028 -1241 775 -1147 L 775 -588 Q 1028 -725 1275 -790 Q 1522 -856 1778 -856 Q 2344 -856 2625 -561 Q 2906 -266 2906 331 L 2906 616 Q 2728 306 2450 153 Q 2172 0 1784 0 Q 1141 0 747 490 Q 353 981 353 1791 Q 353 2603 747 3093 Q 1141 3584 1784 3584 Q 2172 3584 2450 3431 Q 2728 3278 2906 2969 L 2906 3500 L 3481 3500 L 3481 434 z
" transform="scale(0.015625)"/>
      <path id="DejaVuSans-63" d="M 3122 3366 L 3122 2828 Q 2878 2963 2633 3030 Q 2388 3097 2138 3097 Q 1578 3097 1268 2742 Q 959 2388 959 1747 Q 959 1106 1268 751 Q 1578 397 2138 397 Q 2388 397 2633 464 Q 2878 531 3122 666 L 3122 134 Q 2881 22 2623 -34 Q 2366 -91 2075 -91 Q 1284 -91 818 406 Q 353 903 353 1747 Q 353 2603 823 3093 Q 1294 3584 2113 3584 Q 2378 3584 2631 3529 Q 2884 3475 3122 3366 z
" transform="scale(0.015625)"/>
      <path id="DejaVuSans-76" d="M 191 3500 L 800 3500 L 1894 563 L 2988 3500 L 3597 3500 L 2284 0 L 1503 0 L 191 3500 z
" transform="scale(0.015625)"/>
     </defs>
     <use xlink:href="#DejaVuSans-56"/>
     <use xlink:href="#DejaVuSans-61" transform="translate(60.658203 0)"/>
     <use xlink:href="#DejaVuSans-72" transform="translate(121.9375 0)"/>
     <use xlink:href="#DejaVuSans-69" transform="translate(163.050781 0)"/>
     <use xlink:href="#DejaVuSans-6f" transform="translate(190.833984 0)"/>
     <use xlink:href="#DejaVuSans-75" transform="translate(252.015625 0)"/>
     <use xlink:href="#DejaVuSans-73" transform="translate(315.394531 0)"/>
     <use xlink:href="#DejaVuSans-20" transform="translate(367.494141 0)"/>
     <use xlink:href="#DejaVuSans-66" transform="translate(399.28125 0)"/>
     <use xlink:href="#DejaVuSans-69" transform="translate(434.486328 0)"/>
     <use xlink:href="#DejaVuSans-72" transform="translate(462.269531 0)"/>
     <use xlink:href="#DejaVuSans-73" transform="translate(503.382812 0)"/>
     <use xlink:href="#DejaVuSans-74" transform="translate(555.482422 0)"/>
     <use xlink:href="#DejaVuSans-2d" transform="translate(594.691406 0)"/>
     <use xlink:href="#DejaVuSans-6f" transform="translate(632.650391 0)"/>
     <use xlink:href="#DejaVuSans-72" transform="translate(693.832031 0)"/>
     <use xlink:href="#DejaVuSans-64" transform="translate(733.195312 0)"/>
     <use xlink:href="#DejaVuSans-65" transform="translate(796.671875 0)"/>
     <use xlink:href="#DejaVuSans-72" transform="translate(858.195312 0)"/>
     <use xlink:href="#DejaVuSans-20" transform="translate(899.308594 0)"/>
     <use xlink:href="#DejaVuSans-77" transform="translate(931.095703 0)"/>
     <use xlink:href="#DejaVuSans-65" transform="translate(1012.882812 0)"/>
     <use xlink:href="#DejaVuSans-74" transform="translate(1074.40625 0)"/>
     <use xlink:href="#DejaVuSans-74" transform="translate(1113.615234 0)"/>
     <use xlink:href="#DejaVuSans-69" transform="translate(1152.824219 0)"/>
     <use xlink:href="#DejaVuSans-6e" transform="translate(1180.607422 0)"/>
     <use xlink:href="#DejaVuSans-67" transform="translate(1243.986328 0)"/>
     <use xlink:href="#DejaVuSans-20" transform="translate(1307.462891 0)"/>
     <use xlink:href="#DejaVuSans-63" transform="translate(1339.25 0)"/>
     <use xlink:href="#DejaVuSans-75" transform="translate(1394.230469 0)"/>
     <use xlink:href="#DejaVuSans-72" transform="translate(1457.609375 0)"/>
     <use xlink:href="#DejaVuSans-76" transform="translate(1498.722656 0)"/>
     <use xlink:href="#DejaVuSans-65" transform="translate(1557.902344 0)"/>
     <use xlink:href="#DejaVuSans-73" transform="translate(1619.425781 0)"/>
    </g>
   </g>
  </g>
  <g id="patch_7">
   <path d="M 323.4512 20.4912 L 435.328 20.4912 Q 437.328 20.4912 437.328 22.4912 L 437.328 119.14 Q 437.328 121.14 435.328 121.14 L 323.4512 121.14 Q 321.4512 121.14 321.4512 119.14 L 321.4512 22.4912 Q 321.4512 20.4912 323.4512 20.4912 z
" style="fill: #ffffff; opacity: 0.8; stroke: #cccccc; stroke-linejoin: miter"/>
  </g>
  <g id="line2d_51">
   <path d="M 325.4976 28.8 L 344.8512 28.8 " style="fill: none; stroke: #ff0000; stroke-width: 1.5; stroke-linecap: square"/>
  </g>
  <g id="line2d_52">
   <path d="M 325.4976 43.92 L 344.8512 43.92 " style="fill: none; stroke: #0000ff; stroke-width: 1.5; stroke-linecap: square"/>
  </g>
  <g id="line2d_53">
   <path d="M 325.4976 59.04 L 344.8512 59.04 " style="fill: none; stroke: #008000; stroke-width: 1.5; stroke-linecap: square"/>
  </g>
  <g id="line2d_54">
   <path d="M 325.4976 73.44 L 344.8512 73.44 " style="fill: none; stroke: #008000; stroke-width: 1.5; stroke-linecap: square"/>
  </g>
  <g id="line2d_55">
   <path d="M 325.4976 88.56 L 344.8512 88.56 " style="fill: none; stroke: #008000; stroke-width: 1.5; stroke-linecap: square"/>
  </g>
  <g id="line2d_56">
   <g>
    <use xlink:href="#mfbf0ec92c2" x="335.1600" y="107.6400" style="fill: #00bfbf; stroke: #00bfbf; stroke-linejoin: miter"/>
   </g>
  </g>
  <g id="text_11">
   <!-- Primary drying -->
   <g transform="translate(352.8 31.608) scale(0.1 -0.1)">
    <defs>
     <path id="DejaVuSans-50" d="M 1259 4147 L 1259 2394 L 2053 2394 Q 2494 2394 2734 2622 Q 2975 2850 2975 3272 Q 2975 3691 2734 3919 Q 2494 4147 2053 4147 L 1259 4147 z
M 628 4666 L 2053 4666 Q 2838 4666 3239 4311 Q 3641 3956 3641 3272 Q 3641 2581 3239 2228 Q 2838 1875 2053 1875 L 1259 1875 L 1259 0 L 628 0 L 628 4666 z
" transform="scale(0.015625)"/>
     <path id="DejaVuSans-6d" d="M 3328 2828 Q 3544 3216 3844 3400 Q 4144 3584 4550 3584 Q 5097 3584 5394 3201 Q 5691 2819 5691 2113 L 5691 0 L 5113 0 L 5113 2094 Q 5113 2597 4934 2840 Q 4756 3084 4391 3084 Q 3944 3084 3684 2787 Q 3425 2491 3425 1978 L 3425 0 L 2847 0 L 2847 2094 Q 2847 2600 2669 2842 Q 2491 3084 2119 3084 Q 1678 3084 1418 2786 Q 1159 2488 1159 1978 L 1159 0 L 581 0 L 581 3500 L 1159 3500 L 1159 2956 Q 1356 3278 1631 3431 Q 1906 3584 2284 3584 Q 2666 3584 2933 3390 Q 3200 3197 3328 2828 z
" transform="scale(0.015625)"/>
    </defs>
    <use xlink:href="#DejaVuSans-50"/>
    <use xlink:href="#DejaVuSans-72" transform="translate(58.552734 0)"/>
    <use xlink:href="#DejaVuSans-69" transform="translate(99.666016 0)"/>
    <use xlink:href="#DejaVuSans-6d" transform="translate(127.449219 0)"/>
    <use xlink:href="#DejaVuSans-61" transform="translate(224.861328 0)"/>
    <use xlink:href="#DejaVuSans-72" transform="translate(286.140625 0)"/>
    <use xlink:href="#DejaVuSans-79" transform="translate(327.253906 0)"/>
    <use xlink:href="#DejaVuSans-20" transform="translate(386.433594 0)"/>
    <use xlink:href="#DejaVuSans-64" transform="translate(418.220703 0)"/>
    <use xlink:href="#DejaVuSans-72" transform="translate(481.697266 0)"/>
    <use xlink:href="#DejaVuSans-79" transform="translate(522.810547 0)"/>
    <use xlink:href="#DejaVuSans-69" transform="translate(581.990234 0)"/>
    <use xlink:href="#DejaVuSans-6e" transform="translate(609.773438 0)"/>
    <use xlink:href="#DejaVuSans-67" transform="translate(673.152344 0)"/>
   </g>
  </g>
  <g id="text_12">
   <!-- Primary wetting -->
   <g transform="translate(352.8 46.728) scale(0.1 -0.1)">
    <use xlink:href="#DejaVuSans-50"/>
    <use xlink:href="#DejaVuSans-72" transform="translate(58.552734 0)"/>
    <use xlink:href="#DejaVuSans-69" transform="translate(99.666016 0)"/>
    <use xlink:href="#DejaVuSans-6d" transform="translate(127.449219 0)"/>
    <use xlink:href="#DejaVuSans-61" transform="translate(224.861328 0)"/>
    <use xlink:href="#DejaVuSans-72" transform="translate(286.140625 0)"/>
    <use xlink:href="#DejaVuSans-79" transform="translate(327.253906 0)"/>
    <use xlink:href="#DejaVuSans-20" transform="translate(386.433594 0)"/>
    <use xlink:href="#DejaVuSans-77" transform="translate(418.220703 0)"/>
    <use xlink:href="#DejaVuSans-65" transform="translate(500.007812 0)"/>
    <use xlink:href="#DejaVuSans-74" transform="translate(561.53125 0)"/>
    <use xlink:href="#DejaVuSans-74" transform="translate(600.740234 0)"/>
    <use xlink:href="#DejaVuSans-69" transform="translate(639.949219 0)"/>
    <use xlink:href="#DejaVuSans-6e" transform="translate(667.732422 0)"/>
    <use xlink:href="#DejaVuSans-67" transform="translate(731.111328 0)"/>
   </g>
  </g>
  <g id="text_13">
   <!-- order 1 -->
   <g transform="translate(352.8 61.848) scale(0.1 -0.1)">
    <use xlink:href="#DejaVuSans-6f"/>
    <use xlink:href="#DejaVuSans-72" transform="translate(61.181641 0)"/>
    <use xlink:href="#DejaVuSans-64" transform="translate(100.544922 0)"/>
    <use xlink:href="#DejaVuSans-65" transform="translate(164.021484 0)"/>
    <use xlink:href="#DejaVuSans-72" transform="translate(225.544922 0)"/>
    <use xlink:href="#DejaVuSans-20" transform="translate(266.658203 0)"/>
    <use xlink:href="#DejaVuSans-31" transform="translate(298.445312 0)"/>
   </g>
  </g>
  <g id="text_14">
   <!-- order 1 -->
   <g transform="translate(352.8 76.464) scale(0.1 -0.1)">
    <use xlink:href="#DejaVuSans-6f"/>
    <use xlink:href="#DejaVuSans-72" transform="translate(61.181641 0)"/>
    <use xlink:href="#DejaVuSans-64" transform="translate(100.544922 0)"/>
    <use xlink:href="#DejaVuSans-65" transform="translate(164.021484 0)"/>
    <use xlink:href="#DejaVuSans-72" transform="translate(225.544922 0)"/>
    <use xlink:href="#DejaVuSans-20" transform="translate(266.658203 0)"/>
    <use xlink:href="#DejaVuSans-31" transform="translate(298.445312 0)"/>
   </g>
  </g>
  <g id="text_15">
   <!-- order 1 -->
   <g transform="translate(352.8 91.44) scale(0.1 -0.1)">
    <use xlink:href="#DejaVuSans-6f"/>
    <use xlink:href="#DejaVuSans-72" transform="translate(61.181641 0)"/>
    <use xlink:href="#DejaVuSans-64" transform="translate(100.544922 0)"/>
    <use xlink:href="#DejaVuSans-65" transform="translate(164.021484 0)"/>
    <use xlink:href="#DejaVuSans-72" transform="translate(225.544922 0)"/>
    <use xlink:href="#DejaVuSans-20" transform="translate(266.658203 0)"/>
    <use xlink:href="#DejaVuSans-31" transform="translate(298.445312 0)"/>
   </g>
  </g>
  <g id="text_16">
   <!-- $1-S_{gr}^{\Delta}$ -->
   <g transform="translate(353.232 110.232) scale(0.1 -0.1)">
    <defs>
     <path id="DejaVuSans-394" d="M 2188 4044 L 906 525 L 3472 525 L 2188 4044 z
M 50 0 L 1831 4666 L 2547 4666 L 4325 0 L 50 0 z
" transform="scale(0.015625)"/>
    </defs>
    <use xlink:href="#DejaVuSans-31" transform="translate(0 0.684375)"/>
    <use xlink:href="#DejaVuSans-2212" transform="translate(83.105469 0.684375)"/>
    <use xlink:href="#DejaVuSans-Oblique-53" transform="translate(186.376953 0.684375)"/>
    <use xlink:href="#DejaVuSans-394" transform="translate(257.054036 38.965625) scale(0.7)"/>
    <use xlink:href="#DejaVuSans-Oblique-67" transform="translate(249.853516 -26.659375) scale(0.7)"/>
    <use xlink:href="#DejaVuSans-Oblique-72" transform="translate(294.287109 -26.659375) scale(0.7)"/>
   </g>
  </g>
 </g>
 <defs>
  <clipPath id="p04ae2a21cd">
   <rect x="56.4768" y="15.264" width="385.6032" height="287.28"/>
  </clipPath>
 </defs>
</svg>

</body></html>
